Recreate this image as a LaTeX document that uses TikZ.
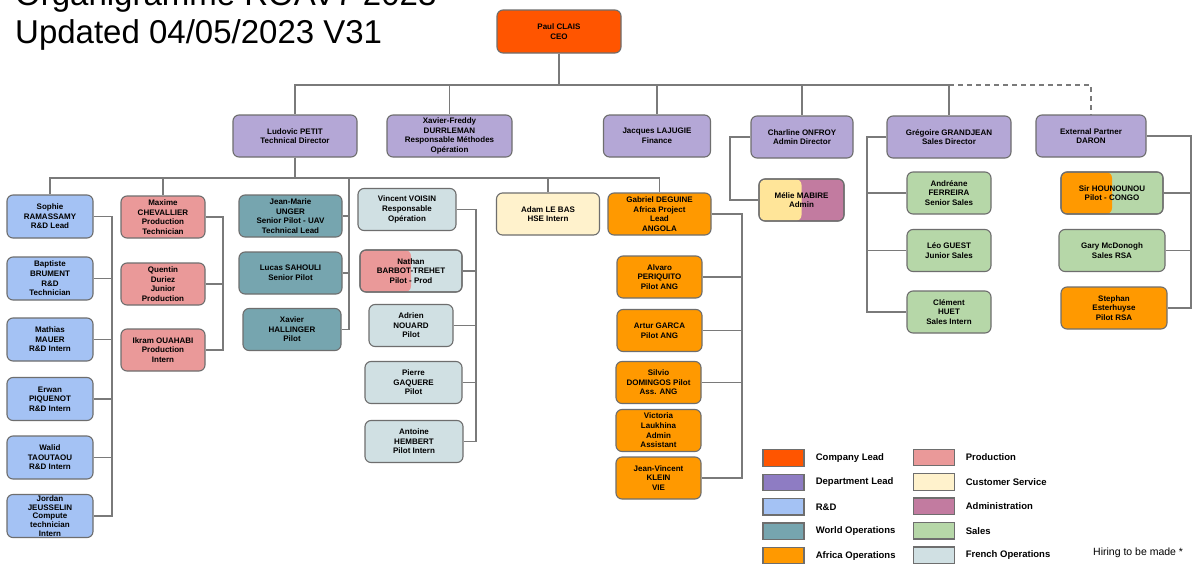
\documentclass[tikz,border=0pt]{standalone}
\usepackage{fontspec}
\setmainfont{Liberation Sans}
\usetikzlibrary{positioning}
\definecolor{leadorange}{HTML}{FF5500}
\definecolor{deptpurple}{HTML}{B4A7D6}
\definecolor{deptswatch}{HTML}{8E7CC3}
\definecolor{rndblue}{HTML}{A4C2F4}
\definecolor{worldteal}{HTML}{76A5AF}
\definecolor{africaorange}{HTML}{FF9900}
\definecolor{prodpink}{HTML}{EA9999}
\definecolor{custyellow}{HTML}{FFF2CC}
\definecolor{adminmauve}{HTML}{C27BA0}
\definecolor{salesgreen}{HTML}{B6D7A8}
\definecolor{frenchgrey}{HTML}{D0E0E3}
\definecolor{admyellow}{HTML}{FFE599}
\definecolor{cardline}{HTML}{6E6E6E}
\definecolor{linkgray}{HTML}{7A7A7A}
\newcommand{\cardfont}{\bfseries\fontsize{8}{9.6}\selectfont}
\newcommand{\legendfont}{\bfseries\fontsize{9.5}{11}\selectfont}
\tikzset{
  card/.style={draw=cardline, line width=1.1pt, rounded corners=6pt, align=center, font=\cardfont, inner sep=1pt, minimum height=42pt},
  dept/.style={card, fill=deptpurple},
  rnd/.style={card, fill=rndblue, minimum width=86pt, minimum height=43pt},
  prod/.style={card, fill=prodpink, minimum width=84pt},
  world/.style={card, fill=worldteal, minimum width=103pt},
  french/.style={card, fill=frenchgrey},
  africa/.style={card, fill=africaorange, minimum width=85pt},
  sales/.style={card, fill=salesgreen, minimum width=84pt},
  twotone/.style 2 args={card, fill=#2, path picture={\fill[#1] (path picture bounding box.north west) rectangle (path picture bounding box.south);}, postaction={draw=cardline, line width=1.1pt}},
  link/.style={draw=linkgray, line width=1.1pt},
  swatch/.style={draw=cardline, line width=1.3pt, minimum width=41pt, minimum height=16.5pt, inner sep=0pt},
  legtext/.style={anchor=west, font=\legendfont, inner sep=0pt}
}
\begin{document}
\begin{tikzpicture}[x=1pt, y=-1pt]
        \useasboundingbox[fill=white] (0,0) rectangle (1195,563);
        \node[anchor=base west, inner sep=0pt, font=\fontsize{33}{38}\selectfont] (title) at (15,5) {Organigramme ROAV7 2023};
        \node[anchor=base west, inner sep=0pt, font=\fontsize{33}{38}\selectfont] (subtitle) at (15,43) {Updated 04/05/2023 V31};
        % direction
        \node[card, fill=leadorange, minimum width=124pt, minimum height=43pt] (clais) at (559,31.5) {Paul CLAIS\\CEO};
        \node[dept, minimum width=124pt] (petit) at (295,136) {Ludovic PETIT\\Technical Director};
        \node[dept, minimum width=125pt] (durrleman) at (449.5,136) {Xavier-Freddy\\DURRLEMAN\\Responsable Méthodes\\Opération};
        \node[dept, minimum width=107pt] (lajugie) at (657,136) {Jacques LAJUGIE\\Finance};
        \node[dept, minimum width=102pt] (onfroy) at (802,137) {Charline ONFROY\\Admin Director};
        \node[dept, minimum width=124pt] (grandjean) at (949,137) {Grégoire GRANDJEAN\\Sales Director};
        \node[dept, minimum width=110pt] (daron) at (1091,136) {External Partner\\DARON};
        % R&D
        \node[rnd] (ramassamy) at (50,216.5) {Sophie\\RAMASSAMY\\R\&D Lead};
        \node[rnd] (brument) at (50,278.5) {Baptiste\\BRUMENT\\R\&D\\Technician};
        \node[rnd] (mauer) at (50,339.5) {Mathias\\MAUER\\R\&D Intern};
        \node[rnd] (piquenot) at (50,399) {Erwan\\PIQUENOT\\R\&D Intern};
        \node[rnd] (taoutaou) at (50,457.5) {Walid\\TAOUTAOU\\R\&D Intern};
        \node[rnd, font=\bfseries\fontsize{8}{8.8}\selectfont] (jeusselin) at (50,516) {Jordan\\JEUSSELIN\\Compute\\technician\\Intern};
        % production
        \node[prod] (chevallier) at (163,217) {Maxime\\CHEVALLIER\\Production\\Technician};
        \node[prod] (duriez) at (163,284) {Quentin\\Duriez\\Junior\\Production};
        \node[prod] (ouahabi) at (163,350) {Ikram OUAHABI\\Production\\Intern};
        % world operations
        \node[world] (unger) at (290.5,216) {Jean-Marie\\UNGER\\Senior Pilot - UAV\\Technical Lead};
        \node[world] (sahouli) at (290.5,273) {Lucas SAHOULI\\Senior Pilot};
        \node[world, minimum width=98pt] (hallinger) at (292,329.5) {Xavier\\HALLINGER\\Pilot};
        % french operations
        \node[french, minimum width=98pt] (voisin) at (407,209.5) {Vincent VOISIN\\Responsable\\Opération};
        \node[twotone={prodpink}{frenchgrey}, minimum width=102pt] (barbot) at (411,271) {Nathan\\BARBOT-TREHET\\Pilot - Prod};
        \node[french, minimum width=84pt] (nouard) at (411,325.5) {Adrien\\NOUARD\\Pilot};
        \node[french, minimum width=97pt] (gaquere) at (413.5,382.5) {Pierre\\GAQUERE\\Pilot};
        \node[french, minimum width=98pt] (hembert) at (414,441.5) {Antoine\\HEMBERT\\Pilot Intern};
        \node[card, fill=custyellow, minimum width=103pt] (lebas) at (548,214) {Adam LE BAS\\HSE Intern};
        % africa operations
        \node[africa, minimum width=103pt] (deguine) at (659.5,214) {Gabriel DEGUINE\\Africa Project\\Lead\\ANGOLA};
        \node[africa] (periquito) at (659.5,277) {Alvaro\\PERIQUITO\\Pilot ANG};
        \node[africa] (garca) at (659.5,330.5) {Artur GARCA\\Pilot ANG};
        \node[africa] (domingos) at (658.5,382.5) {Silvio\\DOMINGOS Pilot\\Ass. ANG};
        \node[africa] (laukhina) at (658.5,430.5) {Victoria\\Laukhina\\Admin\\Assistant};
        \node[africa] (klein) at (658.5,478) {Jean-Vincent\\KLEIN\\VIE};
        % admin, sales, partner
        \node[twotone={admyellow}{adminmauve}, minimum width=85pt] (mabire) at (801.5,200) {Mélie MABIRE\\Admin};
        \node[sales] (ferreira) at (949,193) {Andréane\\FERREIRA\\Senior Sales};
        \node[sales] (guest) at (949,250.5) {Léo GUEST\\Junior Sales};
        \node[sales] (huet) at (949,312) {Clément\\HUET\\Sales Intern};
        \node[twotone={africaorange}{salesgreen}, minimum width=102pt] (hounounou) at (1112,193) {Sir HOUNOUNOU\\Pilot - CONGO};
        \node[sales, minimum width=106pt] (mcdonogh) at (1112,250.5) {Gary McDonogh\\Sales RSA};
        \node[africa, minimum width=106pt] (esterhuyse) at (1114,308) {Stephan\\Esterhuyse\\Pilot RSA};
        % connectors
        \coordinate (topbus) at (559,85);
        \coordinate (techbus) at (295,178);
        \coordinate (worldrail) at (349,178);
        \coordinate (rndrail) at (112,0);
        \coordinate (prodrail) at (223,0);
        \coordinate (frenchrail) at (476,0);
        \coordinate (africarail) at (742,0);
        \coordinate (adminrail) at (730,0);
        \coordinate (salesrail) at (867,0);
        \coordinate (partnerrail) at (1191,0);
        \foreach \d in {petit,durrleman,lajugie,onfroy,grandjean}{\draw[link] (clais.south) -- (clais.south |- topbus) -| (\d.north);}
        \draw[link, dash pattern=on 5pt off 4pt] (grandjean.north |- topbus) -| (daron.north);
        \foreach \s in {ramassamy,chevallier,lebas,deguine}{\draw[link] (petit.south) -- (petit.south |- techbus) -| (\s.north);}
        \draw[link] (worldrail) |- (hallinger.east);
        \foreach \a/\b/\r/\s in {ramassamy/jeusselin/rndrail/east,chevallier/ouahabi/prodrail/east,voisin/hembert/frenchrail/east,deguine/klein/africarail/east,onfroy/mabire/adminrail/west,grandjean/huet/salesrail/west,daron/esterhuyse/partnerrail/east}{\draw[link] (\a.\s) -| (\r |- \b.\s) -- (\b.\s);}
        \foreach \m/\r/\s in {brument/rndrail/east,mauer/rndrail/east,piquenot/rndrail/east,taoutaou/rndrail/east,duriez/prodrail/east,unger/worldrail/east,sahouli/worldrail/east,barbot/frenchrail/east,nouard/frenchrail/east,gaquere/frenchrail/east,periquito/africarail/east,garca/africarail/east,domingos/africarail/east,ferreira/salesrail/west,guest/salesrail/west,hounounou/partnerrail/east,mcdonogh/partnerrail/east}{\draw[link] (\m.\s) -- (\m.\s -| \r);}
        % legend
        \foreach \c/\t [count=\i] in {leadorange/Company Lead,deptswatch/Department Lead,rndblue/R\&D,worldteal/World Operations,africaorange/Africa Operations}{
          \node[swatch, fill=\c] (keya\i) at (783.5,{458+24.4*(\i-1)}) {};
          \node[legtext] (keyatext\i) at ([xshift=11pt]keya\i.east) {\t};}
        \foreach \c/\t [count=\i] in {prodpink/Production,custyellow/Customer Service,adminmauve/Administration,salesgreen/Sales,frenchgrey/French Operations}{
          \node[swatch, fill=\c] (keyb\i) at (934,{457.5+24.4*(\i-1)}) {};
          \node[legtext] (keybtext\i) at ([xshift=10.5pt]keyb\i.east) {\t};}
        \node[anchor=west, inner sep=0pt, font=\fontsize{10.5}{12}\selectfont] (hiring) at (1093,553) {Hiring to be made *};
      \end{tikzpicture}
\end{document}
